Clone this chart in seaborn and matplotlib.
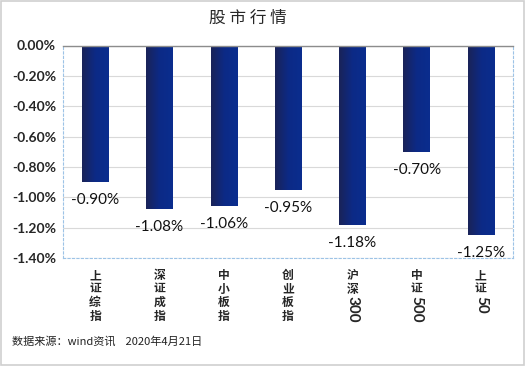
import re
import numpy as np
import pandas as pd
import matplotlib
matplotlib.use('Agg')
import matplotlib.pyplot as plt
import seaborn as sns
from matplotlib.colors import LinearSegmentedColormap

# data
categories = ['上证综指', '深证成指', '中小板指', '创业板指', '沪深300', '中证500', '上证50']
changes = [-0.90, -1.08, -1.06, -0.95, -1.18, -0.70, -1.25]
y_ticks = [0.0, -0.2, -0.4, -0.6, -0.8, -1.0, -1.2, -1.4]
title = '股 市 行 情'
source_note = '数据来源：wind资讯    2020年4月21日'

sns.set_style('white')
plt.rcParams['font.family'] = ['Noto Sans CJK SC', 'DejaVu Sans']

df = pd.DataFrame({'name': categories, 'change': changes})

fig = plt.figure(figsize=(5.26, 3.66), dpi=100)
ax = fig.add_axes([63 / 526, 1 - 258 / 366, 450 / 526, 212.5 / 366])

sns.barplot(data=df, x='name', y='change', color='#102a78', width=0.41,
            ax=ax, zorder=2)

# gradient fill on each bar (dark on the left, brighter on the right)
grad_cmap = LinearSegmentedColormap.from_list('bar', ['#1a2358', '#0c2a86', '#0a2d8e'])
grad = np.linspace(0, 1, 64).reshape(1, -1)
for p in ax.patches:
    x0, y0 = p.get_x(), p.get_y()
    w, h = p.get_width(), p.get_height()
    ax.imshow(grad, extent=[x0, x0 + w, y0 + h, y0], aspect='auto',
              cmap=grad_cmap, zorder=3, interpolation='bicubic')
    p.set_facecolor('none')
    p.set_edgecolor('none')

ax.set_xlim(-0.5, len(categories) - 0.5)
ax.set_ylim(-1.4, 0)
ax.set_yticks(y_ticks)
ax.set_yticklabels([f'{v:.2f}%' for v in y_ticks], fontfamily='Lato',
                   fontweight='bold', fontsize=10)
ax.tick_params(axis='y', length=0, pad=5)
ax.yaxis.grid(True, color='#d9d9d9', linewidth=0.8, zorder=0)
ax.set_axisbelow(True)

# value labels under the bars
for i, v in enumerate(changes):
    ax.annotate(f'{v:.2f}%', xy=(i, v), xytext=(0, -11), textcoords='offset pixels',
                ha='center', va='top', fontsize=11, fontfamily='Lato', color='#111111')

# stacked vertical category labels; digits are drawn rotated below
ax.set_xticks(range(len(categories)))
stacked = []
digits = []
for name in categories:
    m = re.match(r'^(\D*)(\d*)$', name)
    stacked.append('\n'.join(m.group(1)))
    digits.append(m.group(2))
ax.set_xticklabels(stacked, fontsize=8.5, fontweight='bold', linespacing=1.05, va='top')
ax.tick_params(axis='x', length=0, pad=8)
for i, (s, d) in enumerate(zip(stacked, digits)):
    if d:
        n_lines = s.count('\n') + 1
        ax.annotate(d, xy=(i, 0), xycoords=('data', 'axes fraction'),
                    xytext=(0, -9 - 14.5 * n_lines), textcoords='offset pixels',
                    ha='center', va='top', rotation=-90, fontsize=11,
                    fontfamily='Lato', fontweight='bold')

ax.set_xlabel('')
ax.set_ylabel('')

for side in ['left', 'right', 'bottom']:
    ax.spines[side].set_visible(True)
    ax.spines[side].set_color('#9dc3e6')
    ax.spines[side].set_linestyle((0, (2, 2)))
    ax.spines[side].set_linewidth(0.8)
ax.spines['top'].set_color('#8c8c8c')
ax.spines['top'].set_linewidth(1.0)
ax.spines['top'].set_zorder(4)

fig.text(248 / 526, 1 - 18 / 366, title, ha='center', va='center', fontsize=12,
         fontweight='medium')
fig.text(12 / 526, 1 - 341 / 366, source_note, ha='left', va='center', fontsize=8,
         color='#222222')

# light frame around the whole picture
fig.patches.append(plt.Rectangle((0.002, 0.003), 0.995, 0.993, transform=fig.transFigure,
                                 fill=False, edgecolor='#cfcfcf', linewidth=1.2))

fig.savefig('out.png', dpi=100)
